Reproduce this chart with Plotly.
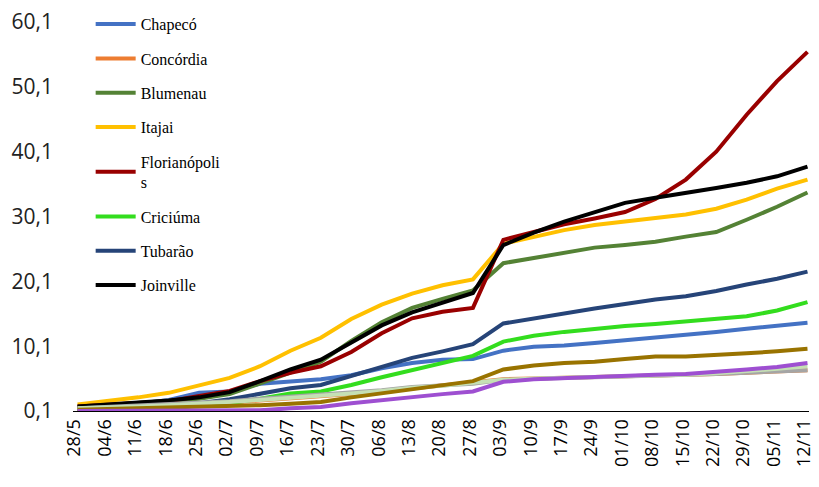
import plotly.graph_objects as go

dates = ["28/5","04/6","11/6","18/6","25/6","02/7","09/7","16/7","23/7","30/7","06/8","13/8","20/8",
         "27/8","03/9","10/9","17/9","24/9","01/10","08/10","15/10","22/10","29/10","05/11","12/11"]

chapeco = [0.6, 0.8, 1.2, 1.8, 2.9, 3.1, 4.3, 4.7, 5.0, 5.6, 6.7, 7.5, 8.0, 8.1, 9.4, 10.0, 10.2, 10.6, 11.0, 11.5, 11.9, 12.3, 12.8, 13.3, 13.7]
concordia = [0.4, 0.5, 0.7, 0.9, 1.1, 1.4, 1.7, 2.0, 2.4, 2.7, 3.1, 3.6, 4.0, 4.5, 5.0, 5.1, 5.2, 5.3, 5.4, 5.5, 5.6, 5.8, 6.0, 6.2, 6.4]
blumenau = [0.7, 1.0, 1.3, 1.6, 2.0, 2.7, 4.3, 6.0, 7.7, 10.9, 13.8, 16.0, 17.4, 18.7, 22.9, 23.7, 24.6, 25.3, 25.7, 26.2, 27.0, 27.7, 29.6, 31.6, 33.8]
itajai = [1.1, 1.6, 2.2, 2.9, 4.0, 5.2, 7.0, 9.4, 11.4, 14.3, 16.5, 18.2, 19.5, 20.4, 25.9, 27.0, 28.0, 28.8, 29.3, 29.9, 30.4, 31.3, 32.7, 34.4, 35.8]
florianopolis = [0.8, 1.1, 1.4, 1.6, 2.4, 3.2, 4.7, 6.0, 7.0, 9.2, 12.1, 14.4, 15.4, 16.0, 26.5, 27.7, 28.9, 29.8, 30.8, 32.8, 35.8, 40.1, 45.8, 51.0, 55.5]
criciuma = [0.3, 0.4, 0.5, 0.7, 0.9, 1.3, 2.0, 2.8, 3.1, 4.1, 5.3, 6.4, 7.5, 8.6, 10.8, 11.7, 12.3, 12.8, 13.2, 13.5, 13.9, 14.3, 14.7, 15.6, 16.9]
tubarao = [0.5, 0.6, 0.8, 1.0, 1.3, 1.9, 2.8, 3.6, 4.1, 5.5, 6.9, 8.3, 9.3, 10.4, 13.6, 14.4, 15.2, 15.9, 16.6, 17.3, 17.8, 18.6, 19.6, 20.5, 21.6]
joinville = [0.8, 1.1, 1.4, 1.7, 2.2, 3.0, 4.7, 6.5, 8.0, 10.6, 13.3, 15.3, 16.8, 18.3, 25.7, 27.6, 29.3, 30.7, 32.2, 33.0, 33.7, 34.5, 35.3, 36.3, 37.8]
extra_gray = [0.5, 0.7, 0.9, 1.1, 1.3, 1.6, 2.0, 2.3, 2.6, 2.9, 3.3, 3.8, 4.0, 4.3, 4.9, 5.1, 5.2, 5.3, 5.4, 5.5, 5.6, 5.8, 6.0, 6.2, 6.4]
extra_lightgreen = [0.5, 0.6, 0.8, 1.0, 1.2, 1.5, 1.8, 2.1, 2.4, 2.8, 3.2, 3.7, 4.0, 4.4, 4.9, 5.1, 5.2, 5.3, 5.4, 5.6, 5.7, 5.9, 6.2, 6.6, 7.0]
extra_brown = [0.3, 0.4, 0.5, 0.6, 0.7, 0.9, 1.0, 1.2, 1.5, 2.2, 2.8, 3.5, 4.1, 4.7, 6.5, 7.1, 7.5, 7.7, 8.1, 8.5, 8.5, 8.7, 9.0, 9.3, 9.7]
extra_purple = [0.1, 0.1, 0.1, 0.1, 0.1, 0.1, 0.2, 0.5, 0.7, 1.3, 1.8, 2.3, 2.7, 3.1, 4.6, 5.0, 5.2, 5.3, 5.5, 5.7, 5.8, 6.1, 6.5, 6.9, 7.5]

ytick_vals = [0.1, 10.1, 20.1, 30.1, 40.1, 50.1, 60.1]
ytick_text = ["0,1", "10,1", "20,1", "30,1", "40,1", "50,1", "60,1"]

legend_series = [
    ("Chapecó", chapeco, "#4472C4"),
    ("Concórdia", concordia, "#ED7D31"),
    ("Blumenau", blumenau, "#548235"),
    ("Itajai", itajai, "#FFC000"),
    ("Florianópoli<br>s", florianopolis, "#990000"),
    ("Criciúma", criciuma, "#33DD1E"),
    ("Tubarão", tubarao, "#264478"),
    ("Joinville", joinville, "#000000"),
]
extra_series = [
    ("Outro 1", extra_gray, "#A5A5A5"),
    ("Outro 2", extra_lightgreen, "#C5E0B4"),
    ("Outro 3", extra_brown, "#997300"),
    ("Outro 4", extra_purple, "#9E4FD1"),
]

fig = go.Figure()
for i, (name, vals, col) in enumerate(legend_series):
    fig.add_trace(go.Scatter(x=dates, y=vals, mode="lines", name=name,
                             line=dict(color=col, width=4), legendgroup=f"g{i}"))
for name, vals, col in extra_series:
    fig.add_trace(go.Scatter(x=dates, y=vals, mode="lines", name=name,
                             line=dict(color=col, width=4), showlegend=False))

fig.update_layout(
    width=811, height=479,
    margin=dict(l=65, r=10, t=14, b=76, autoexpand=False),
    paper_bgcolor="white", plot_bgcolor="white",
    legend=dict(x=0.024, y=1.038, xanchor="left", yanchor="top",
                font=dict(family="Liberation Serif", size=16, color="#000000"),
                tracegroupgap=10.5, bgcolor="rgba(0,0,0,0)", itemwidth=40,
                maxheight=460),
    xaxis=dict(type="category", range=[-0.15, 24.05], showgrid=False, automargin=False,
               showline=True, linecolor="#000000", linewidth=1, ticks="",
               ticklabelshift=-3, ticklabeloverflow="allow",
               tickangle=-90, tickfont=dict(family="Open Sans", size=18, color="#000000")),
    yaxis=dict(range=[0.095, 60.11], tickvals=ytick_vals, ticktext=ytick_text, automargin=False,
               showgrid=False, zeroline=False, showline=False, ticklabelstandoff=19,
               ticklabeloverflow="allow",
               tickfont=dict(family="Open Sans", size=21, color="#222222")),
)

fig.write_html("out.html")
